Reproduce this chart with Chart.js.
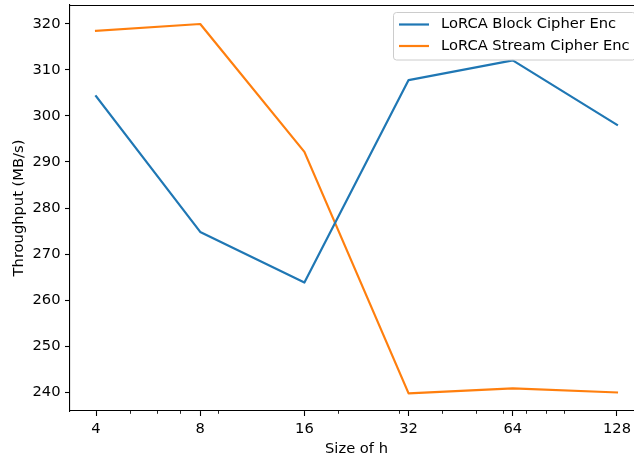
<!DOCTYPE html>
<html>
<head>
<meta charset="utf-8">
<script src="https://cdn.jsdelivr.net/npm/chart.js@4/dist/chart.umd.min.js"></script>
<style>
  html, body { margin: 0; padding: 0; background: #fff; }
  #wrap { width: 634px; height: 462px; }
</style>
</head>
<body>
<div id="wrap"><canvas id="c" width="634" height="462"></canvas></div>
<script>
// ---- data ----
const sizes = [4, 8, 16, 32, 64, 128];
const blockCipherEnc = [304.3, 274.8, 263.8, 307.8, 312.1, 298.1];
const streamCipherEnc = [318.5, 320.0, 292.2, 239.7, 240.8, 239.9];
const seriesNames = ['LoRCA Block Cipher Enc', 'LoRCA Stream Cipher Enc'];
const seriesColors = ['#1f77b4', '#ff7f0e'];
const xTickValues = [4, 8, 16, 32, 64, 128];
const xMinorTickValues = [5, 6, 7, 9, 20, 30, 40, 50, 60, 70, 80, 90];
const yTickValues = [240, 250, 260, 270, 280, 290, 300, 310, 320];
const xTitle = 'Size of h';
const yTitle = 'Throughput (MB/s)';

const FONT = 'DejaVu Sans';
const FS = 14.7;
const AXES_RIGHT = 643; // the plotted axes run past the cropped picture edge

const extras = {
  id: 'extras',
  afterLayout(chart) {
    const xs = chart.scales.x;
    xs.right = AXES_RIGHT;
    xs.width = xs.right - xs.left;
    xs.configure();
  },
  afterDatasetsDraw(chart) {
    const ctx = chart.ctx;
    const a = chart.chartArea;
    const xs = chart.scales.x;
    ctx.save();
    // top spine
    ctx.strokeStyle = '#000';
    ctx.lineWidth = 1.1;
    ctx.beginPath();
    ctx.moveTo(a.left, a.top + 0.5);
    ctx.lineTo(AXES_RIGHT, a.top + 0.5);
    ctx.stroke();
    // minor ticks
    ctx.lineWidth = 0.85;
    for (const v of xMinorTickValues) {
      const px = Math.round(xs.getPixelForValue(v)) + 0.5;
      ctx.beginPath();
      ctx.moveTo(px, a.bottom);
      ctx.lineTo(px, a.bottom + 2.8);
      ctx.stroke();
    }
    // legend
    const bx = 393.5, by = 12.5, bw = 242, bh = 47.5, r = 3;
    ctx.beginPath();
    ctx.moveTo(bx + r, by);
    ctx.lineTo(bx + bw - r, by);
    ctx.arcTo(bx + bw, by, bx + bw, by + r, r);
    ctx.lineTo(bx + bw, by + bh - r);
    ctx.arcTo(bx + bw, by + bh, bx + bw - r, by + bh, r);
    ctx.lineTo(bx + r, by + bh);
    ctx.arcTo(bx, by + bh, bx, by + bh - r, r);
    ctx.lineTo(bx, by + r);
    ctx.arcTo(bx, by, bx + r, by, r);
    ctx.closePath();
    ctx.fillStyle = 'rgba(255,255,255,0.8)';
    ctx.fill();
    ctx.strokeStyle = '#cccccc';
    ctx.lineWidth = 1;
    ctx.stroke();
    const rows = [24.5, 46];
    ctx.font = FS + 'px "' + FONT + '"';
    ctx.textBaseline = 'middle';
    ctx.textAlign = 'left';
    for (let i = 0; i < seriesNames.length; i++) {
      ctx.strokeStyle = seriesColors[i];
      ctx.lineWidth = 2.2;
      ctx.beginPath();
      ctx.moveTo(399, rows[i]);
      ctx.lineTo(429, rows[i]);
      ctx.stroke();
      ctx.fillStyle = '#000';
      ctx.fillText(seriesNames[i], 441, rows[i]);
    }
    ctx.restore();
  }
};

new Chart(document.getElementById('c'), {
  type: 'line',
  data: {
    labels: sizes,
    datasets: [
      { label: seriesNames[0], data: sizes.map((s, i) => ({ x: s, y: blockCipherEnc[i] })),
        borderColor: seriesColors[0], backgroundColor: seriesColors[0] },
      { label: seriesNames[1], data: sizes.map((s, i) => ({ x: s, y: streamCipherEnc[i] })),
        borderColor: seriesColors[1], backgroundColor: seriesColors[1] }
    ]
  },
  options: {
    responsive: false,
    animation: false,
    devicePixelRatio: 1,
    layout: { padding: { top: 5, left: 0, right: 0, bottom: 0 } },
    elements: {
      line: { borderWidth: 2.2, tension: 0, borderJoinStyle: 'round', borderCapStyle: 'square' },
      point: { radius: 0, hoverRadius: 0 }
    },
    plugins: { legend: { display: false }, tooltip: { enabled: false } },
    scales: {
      x: {
        type: 'logarithmic',
        min: 3.3636,
        max: 152.22,
        afterBuildTicks(s) { s.ticks = xTickValues.map(v => ({ value: v })); },
        afterFit(s) { s.height = 51; s.paddingLeft = 0; s.paddingRight = 0; },
        ticks: {
          autoSkip: false, maxRotation: 0, padding: 4.2,
          color: '#000', font: { family: FONT, size: FS },
          callback: (v) => String(v)
        },
        grid: { display: true, drawOnChartArea: false, drawTicks: true, tickLength: 5, tickWidth: 1.1, tickColor: '#000' },
        border: { display: true, color: '#000', width: 1.1 },
        title: { display: true, text: xTitle, color: '#000', font: { family: FONT, size: FS }, padding: { top: 0, bottom: 4.2 } }
      },
      y: {
        type: 'linear',
        min: 235.87,
        max: 324.13,
        afterBuildTicks(s) { s.ticks = yTickValues.map(v => ({ value: v })); },
        afterFit(s) { s.width = 70; s.paddingTop = 0; s.paddingBottom = 0; },
        ticks: {
          autoSkip: false, padding: 4.5,
          color: '#000', font: { family: FONT, size: FS },
          callback: (v) => String(v)
        },
        grid: { display: true, drawOnChartArea: false, drawTicks: true, tickLength: 5, tickWidth: 1.1, tickColor: '#000' },
        border: { display: true, color: '#000', width: 1.1 },
        title: { display: true, text: yTitle, color: '#000', font: { family: FONT, size: FS }, padding: { top: 10.2, bottom: 0 } }
      }
    }
  },
  plugins: [extras]
});
</script>
</body>
</html>
